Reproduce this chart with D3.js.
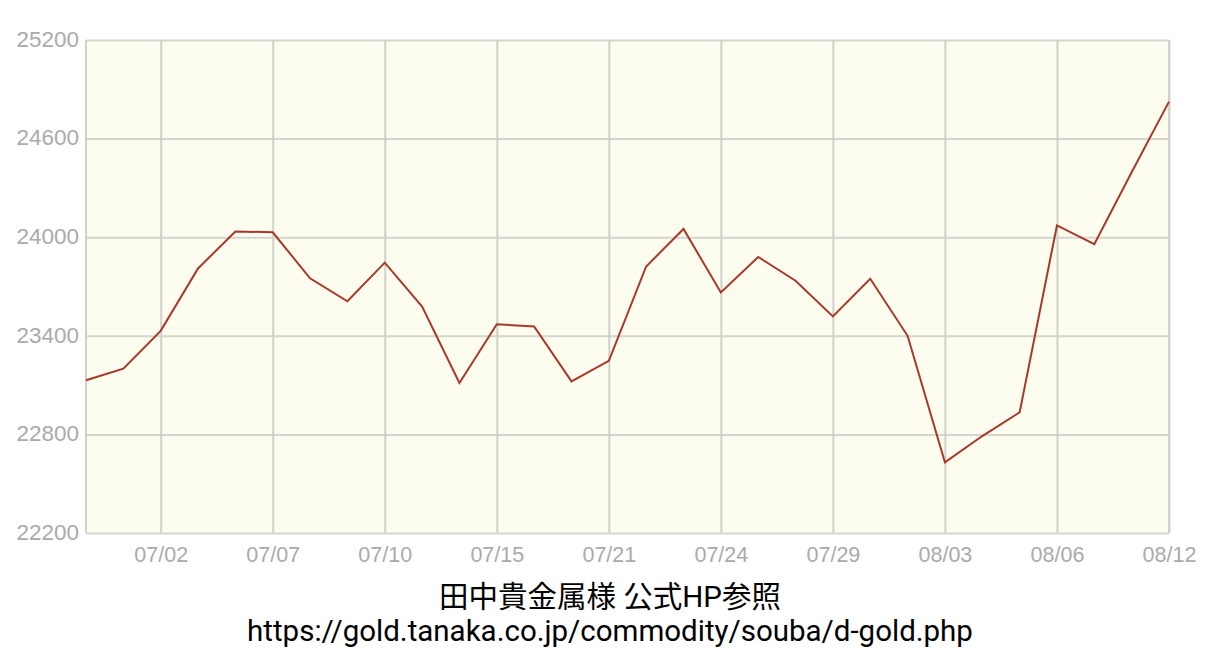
<!DOCTYPE html>
<html><head><meta charset="utf-8">
<script src="https://cdn.jsdelivr.net/npm/d3@7"></script>
<style>
html,body{margin:0;padding:0;background:#fff;}
svg{display:block;}
</style></head>
<body>
<svg id="c" width="1220" height="662"></svg>
<script>
const dates = ["06/30","07/01","07/02","07/03","07/06","07/07","07/08","07/09","07/10","07/13",
  "07/14","07/15","07/16","07/17","07/21","07/22","07/23","07/24","07/27","07/28",
  "07/29","07/30","07/31","08/03","08/04","08/05","08/06","08/07","08/10","08/12"];
const prices = [23130,23200,23430,23810,24035,24030,23750,23610,23845,23578,
  23113,23470,23457,23123,23248,23822,24050,23664,23880,23735,
  23518,23747,23400,22630,22790,22934,24072,23958,24395,24825];
const xTickLabels = ["07/02","07/07","07/10","07/15","07/21","07/24","07/29","08/03","08/06","08/12"];
const yTicks = [22200,22800,23400,24000,24600,25200];
const captionLines = ["田中貴金属様 公式HP参照","https://gold.tanaka.co.jp/commodity/souba/d-gold.php"];

const svg = d3.select("#c");
const L=86, R=1169, T=40, B=533;
const x = d3.scalePoint().domain(dates).range([L,R]);
const y = d3.scaleLinear().domain([22200,25200]).range([B,T]);

svg.append("rect").attr("x",L).attr("y",T).attr("width",R-L).attr("height",B-T).attr("fill","#fcfcef");

// horizontal grid
const gy = svg.append("g").attr("transform",`translate(${L},0)`)
  .call(d3.axisLeft(y).tickValues(yTicks).tickSize(-(R-L)).tickSizeOuter(0).tickPadding(7).tickFormat(d3.format("d")));
gy.select(".domain").remove();
gy.selectAll(".tick line").attr("stroke","#d6d6d0").attr("stroke-width",2);
gy.selectAll(".tick text").attr("fill","#aaaaaa").attr("font-size","22.5px").attr("dy","0.28em")
  .attr("font-family","'Liberation Sans',Arial,sans-serif");

// vertical grid
const gx = svg.append("g").attr("transform",`translate(0,${B})`)
  .call(d3.axisBottom(x).tickValues(xTickLabels).tickSize(-(B-T)).tickSizeOuter(0).tickPadding(14));
gx.select(".domain").remove();
gx.selectAll(".tick line").attr("stroke","#d0d0cc").attr("stroke-width",2);
gx.selectAll(".tick text").attr("fill","#aaaaaa").attr("font-size","21.5px").attr("font-family","'Liberation Sans',Arial,sans-serif");

// border
svg.append("line").attr("x1",L).attr("x2",L).attr("y1",T).attr("y2",B).attr("stroke","#d0d0cc").attr("stroke-width",2);
svg.append("line").attr("x1",R).attr("x2",R).attr("y1",T).attr("y2",B).attr("stroke","#d0d0cc").attr("stroke-width",2);

// line
const line = d3.line().x((d,i)=>x(dates[i])).y(d=>y(d));
svg.append("path").datum(prices).attr("d",line).attr("fill","none")
  .attr("stroke","#a8382a").attr("stroke-width",2).attr("stroke-linejoin","miter");

// caption
svg.append("text").attr("x",610).attr("y",607).attr("text-anchor","middle")
  .attr("font-family","Roboto,'Noto Sans CJK JP',sans-serif").attr("font-size","29.5px").attr("fill","#000")
  .text(captionLines[0]);
svg.append("text").attr("x",610).attr("y",641).attr("text-anchor","middle")
  .attr("font-family","Roboto,'Noto Sans CJK JP',sans-serif").attr("font-size","29.5px").attr("fill","#000")
  .text(captionLines[1]);
</script>
</body></html>
